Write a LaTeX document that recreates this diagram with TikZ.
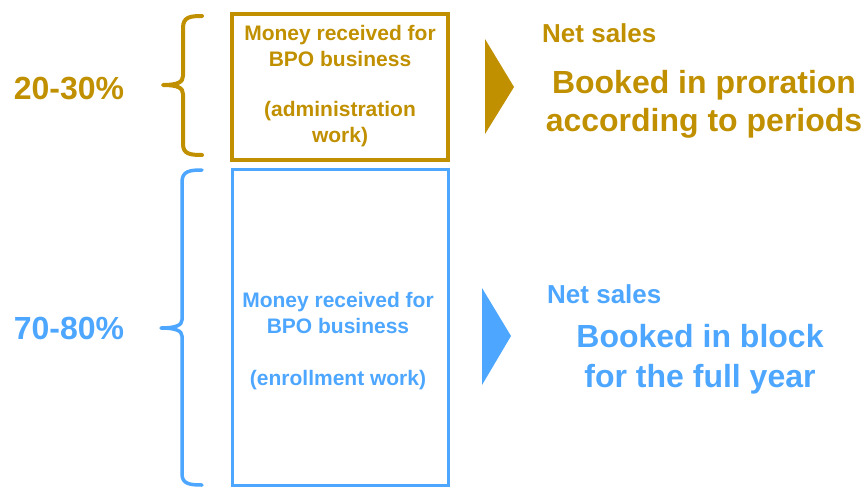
\documentclass[tikz,border=0pt]{standalone}
\usepackage{fontspec}
\setmainfont{Liberation Sans}
\definecolor{gold}{RGB}{192,144,0}
\definecolor{sky}{RGB}{77,166,255}
\begin{document}
\begin{tikzpicture}[x=1pt,y=-1pt,
  boxtext/.style={font=\bfseries\fontsize{21}{26}\selectfont,align=center,inner sep=0pt},
  pct/.style={font=\bfseries\fontsize{32}{38}\selectfont,inner sep=0pt},
  netlabel/.style={font=\bfseries\fontsize{26}{30}\selectfont,inner sep=0pt,anchor=west},
  booked/.style={font=\bfseries\fontsize{32}{38}\selectfont,align=center,inner sep=0pt},
  brace/.style={line width=4pt,line cap=round,line join=round}]
\useasboundingbox (0,0) rectangle (866,487);

% upper block: administration work
\draw[gold,line width=4pt] (232,14) rectangle (448,160);
\node[boxtext,text=gold] (admin) at (340,86) {Money received for\\BPO business\\[24pt](administration\\work)};
\draw[gold,brace] (202,16) .. controls (190,16) and (183,17) .. (183,28)
  -- (183,76) .. controls (183,82) and (178,85) .. (163,85)
  .. controls (178,85) and (183,88) .. (183,94)
  -- (183,144) .. controls (183,154) and (190,155) .. (202,155);
\node[pct,text=gold] (pa) at (69,89) {20-30\%};
\fill[gold] (485,39) -- (514,87) -- (485,134) -- cycle;
\node[netlabel,text=gold] (nsa) at (542,33) {Net sales};
\node[booked,text=gold] (ba) at (704,104) {Booked in proration\\according to periods};

% lower block: enrollment work
\draw[sky,line width=3pt] (232.5,169) rectangle (448,485);
\node[boxtext,text=sky] (enrol) at (338,341) {Money received for\\BPO business\\[26pt](enrollment work)};
\draw[sky,brace,line width=3.5pt] (202,170) .. controls (190,170) and (182,171) .. (182,182)
  -- (182,320) .. controls (182,325) and (176,328) .. (161,328)
  .. controls (176,328) and (182,331) .. (182,336)
  -- (182,474) .. controls (182,484) and (190,485) .. (202,485);
\node[pct,text=sky] (pb) at (69,328) {70-80\%};
\fill[sky] (482,288) -- (511,336) -- (482,385) -- cycle;
\node[netlabel,text=sky] (nsb) at (547,294) {Net sales};
\node[booked,text=sky,font=\bfseries\fontsize{32}{40}\selectfont] (bb) at (700,359) {Booked in block\\for the full year};
\end{tikzpicture}
\end{document}
